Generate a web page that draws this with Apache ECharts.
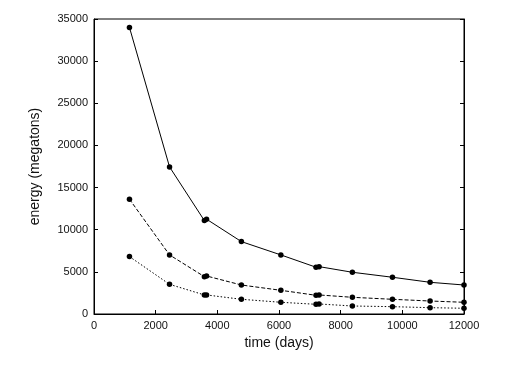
<!DOCTYPE html>
<html><head><meta charset="utf-8">
<script src="https://cdn.jsdelivr.net/npm/echarts@6/dist/echarts.min.js"></script>
<style>html,body{margin:0;padding:0;background:#fff}#c{width:518px;height:365px}</style>
</head><body><div id="c"></div>
<script>
var days = [1150, 2450, 3580, 3650, 4780, 6060, 7200, 7300, 8380, 9680, 10900, 12000];
var energyHigh = [34000, 17450, 11080, 11250, 8590, 7010, 5550, 5620, 4950, 4360, 3760, 3440];
var energyMid = [13620, 7010, 4430, 4510, 3440, 2810, 2220, 2260, 1980, 1745, 1540, 1390];
var energyLow = [6810, 3520, 2260, 2260, 1745, 1390, 1150, 1190, 950, 870, 750, 680];

function pairs(ys){ return days.map(function(d,i){ return [d, ys[i]]; }); }
function ser(ys, type){
  return {type:'line', data:pairs(ys), symbol:'circle', symbolSize:5.5,
    itemStyle:{color:'#000'}, lineStyle:{color:'#000', width:1, type:type}, animation:false};
}
function plain(v){ return String(v); }
var font = 'Liberation Sans, Arial, sans-serif';
var chart = echarts.init(document.getElementById('c'));
chart.setOption({
  animation:false,
  grid:{left:94, right:54, top:19, bottom:51, show:true, borderColor:'#000', borderWidth:1},
  xAxis:{type:'value', min:0, max:12000, interval:2000, name:'time (days)', nameLocation:'middle', nameGap:20,
    nameTextStyle:{color:'#111', fontSize:14, fontFamily:font},
    axisLine:{show:true, lineStyle:{color:'#000'}}, axisTick:{inside:true, length:4, lineStyle:{color:'#000'}},
    axisLabel:{color:'#111', fontSize:11, fontFamily:font, margin:6, formatter:plain}, splitLine:{show:false}},
  yAxis:[{type:'value', min:0, max:35000, interval:5000, name:'energy (megatons)', nameLocation:'middle', nameGap:52,
    nameTextStyle:{color:'#111', fontSize:14, fontFamily:font},
    axisLine:{show:true, lineStyle:{color:'#000'}}, axisTick:{show:true, inside:true, length:4, lineStyle:{color:'#000'}},
    axisLabel:{color:'#111', fontSize:11, fontFamily:font, margin:6, formatter:plain}, splitLine:{show:false}},
   {type:'value', position:'right', min:0, max:35000, interval:5000,
    axisLine:{show:true, lineStyle:{color:'#000'}}, axisTick:{show:true, inside:true, length:4, lineStyle:{color:'#000'}},
    axisLabel:{show:false}, splitLine:{show:false}}],
  series:[ser(energyHigh,'solid'), ser(energyMid,[4,2]), ser(energyLow,[1.5,2])]
});
</script></body></html>
